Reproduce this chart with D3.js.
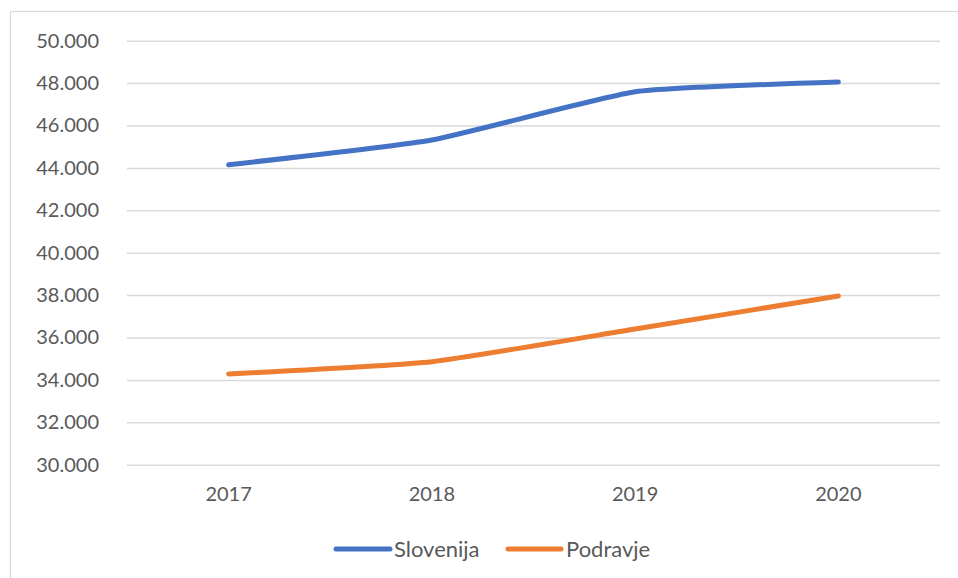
<!DOCTYPE html>
<html>
<head>
<meta charset="utf-8">
<script src="https://cdn.jsdelivr.net/npm/d3@7"></script>
<style>
html,body{margin:0;padding:0;background:#fff;}
svg{display:block;}
text{font-family:Lato,"Open Sans",sans-serif;fill:#595959;}
</style>
</head>
<body>
<svg id="chart" width="958" height="578"></svg>
<script>
const years = ["2017", "2018", "2019", "2020"];
const slovenija = [44150, 45320, 47590, 48050];
const podravje = [34280, 34860, 36400, 37960];
const seriesNames = ["Slovenija", "Podravje"];
const seriesColors = ["#4472C4", "#ED7D31"];
const yTicks = [30000, 32000, 34000, 36000, 38000, 40000, 42000, 44000, 46000, 48000, 50000];

const svg = d3.select("#chart");
const plot = {left: 127, right: 940, top: 40.7, bottom: 464.7};

// outer border
svg.append("rect").attr("x", 10.5).attr("y", 11.5).attr("width", 980).attr("height", 600)
  .attr("fill", "none").attr("stroke", "#D9D9D9").attr("stroke-width", 1.2);

const x = d3.scaleBand().domain(years).range([plot.left, plot.right]).padding(0);
const y = d3.scaleLinear().domain([30000, 50000]).range([plot.bottom, plot.top]);

const fmt = v => d3.format(",")(v).replace(/,/g, ".");

// gridlines + y labels
const yAxis = d3.axisLeft(y).tickValues(yTicks).tickSize(-(plot.right - plot.left)).tickFormat(fmt).tickPadding(28);
const gy = svg.append("g").attr("transform", `translate(${plot.left},0)`).call(yAxis);
gy.select(".domain").remove();
gy.selectAll(".tick line").attr("stroke", "#D9D9D9").attr("stroke-width", 1.5);
gy.selectAll(".tick text").attr("font-size", 20).attr("fill", "#595959")
  .style("font-family", "Lato, 'Open Sans', sans-serif");

// x labels
const xAxis = d3.axisBottom(x).tickSize(0).tickPadding(22);
const gx = svg.append("g").attr("transform", `translate(0,${plot.bottom})`).call(xAxis);
gx.select(".domain").remove();
gx.selectAll(".tick text").attr("font-size", 20).attr("fill", "#595959")
  .style("font-family", "Lato, 'Open Sans', sans-serif");

const line = d3.line()
  .x((d, i) => x(years[i]) + x.bandwidth() / 2)
  .y(d => y(d))
  .curve(d3.curveCardinal.tension(0.55));

[slovenija, podravje].forEach((vals, k) => {
  svg.append("path").datum(vals).attr("d", line)
    .attr("fill", "none").attr("stroke", seriesColors[k])
    .attr("stroke-width", 5).attr("stroke-linecap", "round").attr("stroke-linejoin", "round");
});

// legend
const legendItems = [{x1: 336, x2: 390, tx: 394}, {x1: 508, x2: 561, tx: 566}];
seriesNames.forEach((name, k) => {
  const it = legendItems[k];
  svg.append("line").attr("x1", it.x1).attr("x2", it.x2).attr("y1", 549).attr("y2", 549)
    .attr("stroke", seriesColors[k]).attr("stroke-width", 5).attr("stroke-linecap", "round");
  svg.append("text").attr("x", it.tx).attr("y", 556.5).attr("font-size", 22).text(name);
});
</script>
</body>
</html>
